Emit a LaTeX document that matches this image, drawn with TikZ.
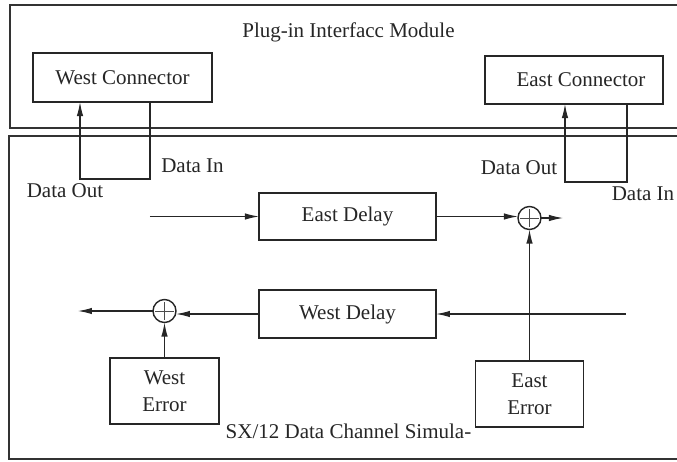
\documentclass[tikz,border=0pt]{standalone}
\usepackage{fontspec}
\setmainfont{Liberation Serif}
\usetikzlibrary{arrows.meta}
\begin{document}
\begin{tikzpicture}[x=0.5pt,y=-0.5pt,
  font=\fontsize{10.5}{13.5}\selectfont,
  line/.style={draw=black!85, line width=0.55pt},
  arr/.style={line, -{Latex[length=7pt,width=3.2pt]}},
  frame/.style={draw=black!80, line width=0.8pt},
  box/.style={draw=black!85, line width=0.6pt, inner sep=0pt, outer sep=0pt, align=center, text=black!85},
  lbl/.style={inner sep=0pt, text=black!85},
  sumnode/.style={circle, draw=black!85, line width=0.7pt, minimum size=11.5pt, inner sep=0pt, outer sep=0pt,
    path picture={\draw[black!70, line width=0.4pt]
      ([yshift=-1.2pt]path picture bounding box.north) -- ([yshift=1.2pt]path picture bounding box.south)
      ([xshift=1.2pt]path picture bounding box.west) -- ([xshift=-1.2pt]path picture bounding box.east);}}
]
\clip (0,0) rectangle (677,462);
\fill[white] (0,0) rectangle (677,462);
% frames
\draw[frame] (10,5) rectangle (720,128);
\draw[frame] (9,136) rectangle (720,459);
\node[lbl] (title) at (348.5,32) {Plug-in Interfacc Module};
\node[lbl] (sim) at (348.5,431) {SX/12 Data Channel Simula-};
% connectors
\node[box, minimum width=89.5pt, minimum height=24.5pt] (wc) at (122.5,77.5) {West Connector};
\node[box, minimum width=89pt, minimum height=24pt] (ec) at (574,80) {};
\node[lbl] (ect) at (581,80) {East Connector};
% delays and errors
\node[box, minimum width=88.5pt, minimum height=23.5pt] (ed) at (347.5,216.5) {East Delay};
\node[box, minimum width=88.5pt, minimum height=24pt] (wd) at (347.5,314) {West Delay};
\node[box, minimum width=54.5pt, minimum height=33pt] (we) at (164.5,391) {West\\Error};
\node[box, minimum width=54pt, minimum height=33pt] (ee) at (529.5,394) {East\\Error};
% summing junctions
\node[sumnode] (es) at (529.5,218) {};
\node[sumnode] (ws) at (164.5,311) {};
% labels
\node[lbl] (wdi) at (192.5,166) {Data In};
\node[lbl] (wdo) at (65,191) {Data Out};
\node[lbl] (edo) at (519,168) {Data Out};
\node[lbl] (edi) at (643,194) {Data In};
% free ends
\coordinate (edin) at (150,216.5);
\coordinate (esout) at (563,218);
\coordinate (wdin) at (626,314);
\coordinate (wsout) at (78,311);
% connector loops
\draw[arr] (wc.south -| 150,0) |- (80,179) -- (wc.south -| 80,0);
\draw[arr] (ec.south -| 627,0) |- (565,182) -- (ec.south -| 565,0);
% signal paths
\draw[arr] (edin) -- (ed.west);
\draw[arr] (ed.east) -- (ed.east -| es.west);
\draw[arr] (es.east) -- (esout);
\draw[arr] (ee.north) -- (es.south);
\draw[arr] (wdin) -- (wd.east);
\draw[arr] (wd.west) -- (wd.west -| ws.east);
\draw[arr] (ws.west) -- (wsout);
\draw[arr] (we.north) -- (ws.south);
\end{tikzpicture}
\end{document}
